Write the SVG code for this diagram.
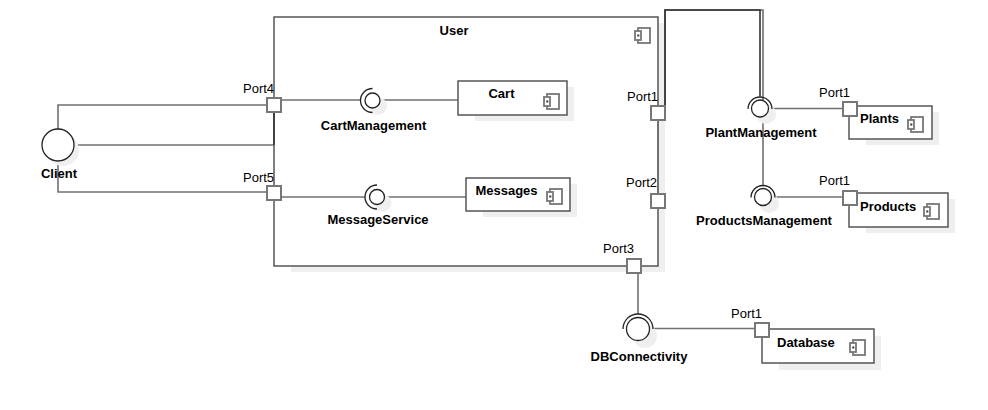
<svg xmlns="http://www.w3.org/2000/svg" width="988" height="410" viewBox="0 0 988 410">
<style>
text{font-family:"Liberation Sans",Arial,sans-serif;font-size:13px;fill:#000}
.b{font-weight:bold}
.box{fill:#fff;stroke:#555;stroke-width:1.5}
.sh{fill:#efefef;stroke:none}
.port{fill:#fff;stroke:#777;stroke-width:2}
.con{fill:none;stroke:#707070;stroke-width:1.6}
.dark{fill:none;stroke:#333;stroke-width:1.6}
.ball{fill:#fff;stroke:#222;stroke-width:1.3}
.sock{fill:none;stroke:#222;stroke-width:1.3}
.ic{fill:#fff;stroke:#777;stroke-width:1.8}
</style>
<defs>
<symbol id="icon" viewBox="0 0 18 18" width="18" height="18" overflow="visible">
<rect class="ic" x="4" y="1" width="12" height="15"/>
<rect class="ic" x="1" y="4" width="6" height="9"/>
<rect x="3.3" y="7.5" width="2" height="2" fill="#333"/>
</symbol>
</defs>
<g id="User">
<rect class="sh" x="291" y="23" width="374" height="249"/>
<rect class="box" x="274" y="17" width="384" height="249"/>
<text class="b" x="454" y="35" text-anchor="middle">User</text>
<use href="#icon" x="634" y="27"/>
</g>
<g id="connectors">
<path class="con" d="M58,129 V105 H267"/>
<path class="con" d="M74,145 H274"/>
<path class="dark" d="M274,112 V145"/>
<path class="con" d="M58,161 V192 H267"/>
<path class="con" d="M281,100 H360.5"/>
<path class="con" d="M380,100 H458"/>
<path class="con" d="M281,197 H365"/>
<path class="con" d="M385.5,197 H466"/>
<path class="con" d="M658,201 V113 H665 V10 H763 V185"/>
<path class="dark" d="M665,113 V10 H760 V96.5"/>
<path class="con" d="M768.5,108.5 H843"/>
<path class="con" d="M771.5,197 H843"/>
<path class="con" d="M638,273 V314"/>
<path class="con" d="M649.5,328.5 H755"/>
</g>
<g id="Client">
<circle class="sh" cx="63" cy="150" r="16"/>
<circle class="ball" cx="58" cy="145" r="16" stroke="#333"/>
<text class="b" x="59" y="178" text-anchor="middle">Client</text>
</g>
<g id="Port4">
<rect class="port" x="267" y="98" width="14" height="14"/>
<text x="243" y="93">Port4</text>
</g>
<g id="Port5">
<rect class="port" x="267" y="186" width="14" height="14"/>
<text x="243" y="182">Port5</text>
</g>
<g id="CartManagement">
<circle class="sh" cx="378" cy="106" r="9"/>
<path class="sock" d="M372.5,88.5 A12,12 0 0 0 372.5,112.5"/>
<circle class="ball" cx="372.5" cy="100.5" r="7.5"/>
<text class="b" x="373.5" y="130" text-anchor="middle">CartManagement</text>
</g>
<g id="MessageService">
<circle class="sh" cx="382.5" cy="203" r="9"/>
<path class="sock" d="M377,185 A12,12 0 0 0 377,209"/>
<circle class="ball" cx="377" cy="197" r="7.5"/>
<text class="b" x="378" y="224" text-anchor="middle">MessageService</text>
</g>
<g id="Cart">
<rect class="sh" x="475" y="87" width="99" height="34"/>
<rect class="box" x="458" y="81" width="109" height="34"/>
<text class="b" x="501.5" y="98" text-anchor="middle">Cart</text>
<use href="#icon" x="543" y="93"/>
</g>
<g id="Messages">
<rect class="sh" x="483" y="184" width="94" height="33"/>
<rect class="box" x="466" y="178" width="104" height="33"/>
<text class="b" x="506.5" y="195" text-anchor="middle">Messages</text>
<use href="#icon" x="546" y="188"/>
</g>
<g id="Port1">
<rect class="port" x="651" y="106" width="14" height="14"/>
<text x="627" y="101">Port1</text>
</g>
<g id="Port2">
<rect class="port" x="651" y="194" width="14" height="14"/>
<text x="626" y="187">Port2</text>
</g>
<g id="Port3">
<rect class="port" x="627" y="259" width="14" height="14"/>
<text x="603" y="253">Port3</text>
</g>
<g id="PlantManagement">
<circle class="sh" cx="766" cy="114" r="10"/>
<path class="sock" d="M748,109 A12,12 0 0 1 772,109"/>
<circle class="ball" cx="760" cy="108.5" r="8.5"/>
<text class="b" x="761" y="137" text-anchor="middle">PlantManagement</text>
</g>
<g id="ProductsManagement">
<circle class="sh" cx="769" cy="203" r="10"/>
<path class="sock" d="M751,197.5 A12,12 0 0 1 775,197.5"/>
<circle class="ball" cx="763" cy="197" r="8.5"/>
<text class="b" x="764" y="225" text-anchor="middle">ProductsManagement</text>
</g>
<g id="DBConnectivity">
<circle class="sh" cx="645" cy="336" r="12"/>
<path class="sock" d="M623,329 A15,15 0 0 1 653,329"/>
<circle class="ball" cx="638" cy="329" r="11.5"/>
<text class="b" x="639" y="361" text-anchor="middle">DBConnectivity</text>
</g>
<g id="Plants">
<rect class="sh" x="866" y="112" width="73" height="33"/>
<rect class="box" x="849" y="106" width="83" height="33"/>
<text class="b" x="860" y="123">Plants</text>
<use href="#icon" x="907" y="116"/>
<rect class="port" x="843" y="102" width="14" height="14"/>
<text x="819" y="97">Port1</text>
</g>
<g id="Products">
<rect class="sh" x="866" y="199" width="89" height="34"/>
<rect class="box" x="849" y="193" width="99" height="34"/>
<text class="b" x="860" y="211">Products</text>
<use href="#icon" x="923" y="203"/>
<rect class="port" x="843" y="191" width="14" height="14"/>
<text x="819" y="185">Port1</text>
</g>
<g id="Database">
<rect class="sh" x="779" y="336" width="102" height="34"/>
<rect class="box" x="762" y="329" width="112" height="34"/>
<text class="b" x="777" y="347">Database</text>
<use href="#icon" x="849" y="339"/>
<rect class="port" x="755" y="323" width="14" height="14"/>
<text x="731" y="318">Port1</text>
</g>
</svg>
